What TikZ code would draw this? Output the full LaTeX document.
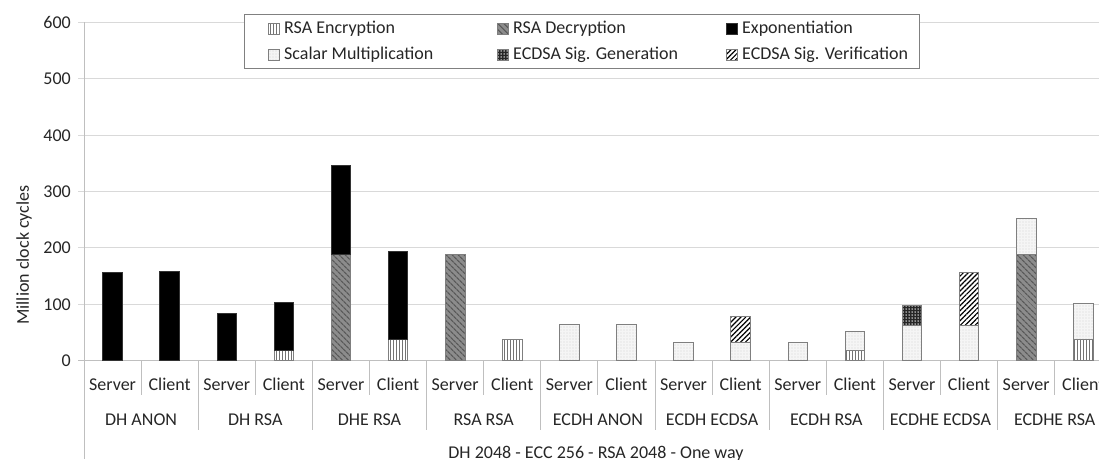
\documentclass[tikz,border=0pt]{standalone}
\usepackage{fontspec}
\setmainfont{Carlito}
\usetikzlibrary{patterns.meta}

\definecolor{gridc}{HTML}{D9D9D9}
\definecolor{axisc}{HTML}{BFBFBF}
\definecolor{txtc}{HTML}{262626}
\definecolor{edgec}{HTML}{7F7F7F}

\tikzset{
  lbl/.style={font=\fontsize{18}{20}\selectfont, text=txtc, inner sep=0pt},
  gridline/.style={draw=gridc, line width=1pt},
  axisline/.style={draw=axisc, line width=1pt},
  seg/.style={draw=edgec, line width=0.8pt, preaction={fill=white}},
  expo/.style={draw=black!80, line width=0.8pt, fill=black},
  rsaenc/.style={seg, pattern={Lines[angle=90, distance=3pt, line width=0.9pt]}, pattern color=black!55},
  rsadec/.style={seg, preaction={fill=black!45},
                 pattern={Lines[angle=-45, distance=4pt, line width=1.3pt]}, pattern color=black!65},
  scalar/.style={seg, preaction={fill=black!4},
                 pattern={Dots[distance=3pt, radius=0.45pt]}, pattern color=black!40},
  siggen/.style={seg, preaction={fill=black!85},
                 pattern={Dots[distance=3pt, radius=0.75pt]}, pattern color=white},
  sigver/.style={seg, pattern={Lines[angle=45, distance=3.5pt, line width=1.2pt]}, pattern color=black},
  legendbox/.style={draw=black!50, line width=0.8pt, fill=white},
}

% one stacked segment: category, lower value, upper value, style
\newcommand\barseg[4]{%
  \path[#4] ({84+57.1*(#1+0.5)-9.8},{360.5-0.5637*#2}) rectangle
            ({84+57.1*(#1+0.5)+9.8},{360.5-0.5637*#3});}

\begin{document}
\begin{tikzpicture}[x=1pt, y=-1pt]
\useasboundingbox (0,0) rectangle (1099,459);
\begin{scope}
\clip (0,0) rectangle (1099,459);

% horizontal gridlines and value ticks
\foreach \v in {100,200,...,600}
  \draw[gridline] (78,{360.5-0.5637*\v}) -- (1120,{360.5-0.5637*\v});
\foreach \v in {0,100,...,600}
  \node[lbl, anchor=base east] (yt\v) at (71,{360.5-0.5637*\v+6}) {\v};

% axes
\draw[axisline] (78,360.5) -- (1120,360.5);
\draw[axisline] (84,22.3) -- (84,459);

% category dividers: short inside a group, long between groups
\foreach \i in {1,...,18} {
  \ifodd\i
    \draw[axisline] ({84+57.1*\i},360.5) -- ({84+57.1*\i},395);
  \else
    \draw[axisline] ({84+57.1*\i},360.5) -- ({84+57.1*\i},430);
  \fi
}

% Server / Client labels
\foreach \i in {0,...,17} {
  \ifodd\i
    \node[lbl, anchor=base] (sub\i) at ({84+57.1*(\i+0.5)},390) {Client};
  \else
    \node[lbl, anchor=base] (sub\i) at ({84+57.1*(\i+0.5)},390) {Server};
  \fi
}

% suite labels
\foreach \g/\name in {0/DH ANON, 1/DH RSA, 2/DHE RSA, 3/RSA RSA, 4/ECDH ANON,
                      5/ECDH ECDSA, 6/ECDH RSA, 7/ECDHE ECDSA, 8/ECDHE RSA}
  \node[lbl, anchor=base] (grp\g) at ({84+114.2*\g+57.1},425) {\name};

% axis titles
\node[lbl, anchor=base] (xtitle) at (596,458.5) {DH 2048 - ECC 256 - RSA 2048 - One way};
\node[lbl, rotate=90] (ytitle) at (24,255) {Million clock cycles};

% stacked bars
\barseg{0}{0}{156}{expo}
\barseg{1}{0}{158}{expo}
\barseg{2}{0}{84}{expo}
\barseg{3}{0}{18}{rsaenc}   \barseg{3}{18}{102.5}{expo}
\barseg{4}{0}{187.5}{rsadec} \barseg{4}{187.5}{347}{expo}
\barseg{5}{0}{37}{rsaenc}   \barseg{5}{37}{194}{expo}
\barseg{6}{0}{188.5}{rsadec}
\barseg{7}{0}{37.5}{rsaenc}
\barseg{8}{0}{63.5}{scalar}
\barseg{9}{0}{63.5}{scalar}
\barseg{10}{0}{32}{scalar}
\barseg{11}{0}{32}{scalar}  \barseg{11}{32}{78}{sigver}
\barseg{12}{0}{32}{scalar}
\barseg{13}{0}{18}{rsaenc}  \barseg{13}{18}{51}{scalar}
\barseg{14}{0}{63}{scalar}  \barseg{14}{63}{97}{siggen}
\barseg{15}{0}{63}{scalar}  \barseg{15}{63}{156}{sigver}
\barseg{16}{0}{188}{rsadec} \barseg{16}{188}{252}{scalar}
\barseg{17}{0}{37.5}{rsaenc} \barseg{17}{37.5}{101.5}{scalar}

% legend
\draw[legendbox] (244,14) rectangle (919.5,68);
\foreach \x/\y/\st/\txt/\nm in {
    284/29/rsaenc/RSA Encryption/lgA,
    513/29/rsadec/RSA Decryption/lgB,
    742/29/expo/Exponentiation/lgC,
    284/55/scalar/Scalar Multiplication/lgD,
    513/55/siggen/ECDSA Sig. Generation/lgE,
    742/55/sigver/ECDSA Sig. Verification/lgF} {
  \node[lbl, anchor=west] (\nm) at (\x,\y) {\txt};
}
\path[rsaenc] (268,23.5) rectangle (279,34.5);
\path[rsadec] (497,23.5) rectangle (508,34.5);
\path[expo]   (726,23.5) rectangle (737,34.5);
\path[scalar] (268,49.5) rectangle (279,60.5);
\path[siggen] (497,49.5) rectangle (508,60.5);
\path[sigver] (726,49.5) rectangle (737,60.5);
\end{scope}
\end{tikzpicture}
\end{document}
